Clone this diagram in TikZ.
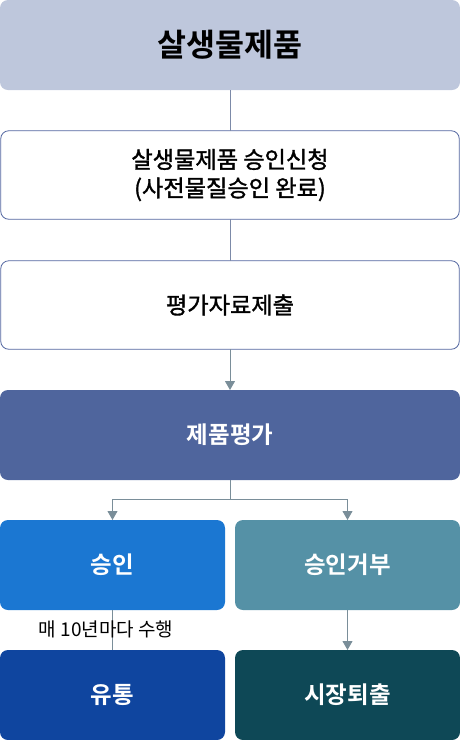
\documentclass[tikz,border=0pt]{standalone}
\usepackage{fontspec}
\setmainfont{Noto Sans CJK KR}[BoldFont={Noto Sans CJK KR Bold}]
\newfontfamily\medfont[FakeBold=1.4]{Noto Sans CJK KR}
\usetikzlibrary{arrows.meta}
\definecolor{topfill}{HTML}{BEC7DC}
\definecolor{evalfill}{HTML}{4F659D}
\definecolor{okfill}{HTML}{1B77D2}
\definecolor{nofill}{HTML}{5591A6}
\definecolor{distfill}{HTML}{0F459F}
\definecolor{outfill}{HTML}{0E4856}
\definecolor{edgeblue}{HTML}{5366A0}
\definecolor{conn}{HTML}{7A8E99}
\definecolor{conntop}{HTML}{7C8AA8}
\tikzset{
  base/.style={rounded corners=8pt, inner sep=0pt, outer sep=0pt, anchor=north west, align=center},
  topbox/.style={base, fill=topfill, minimum width=460pt, minimum height=90pt, font=\bfseries\fontsize{31.5}{36}\selectfont},
  whitebox/.style={base, fill=white, draw=edgeblue, line width=0.8pt, minimum width=458.5pt, minimum height=88.5pt, font=\medfont\fontsize{23.2}{28.5}\selectfont},
  colbox/.style={base, text=white, font=\bfseries\fontsize{23.5}{28}\selectfont},
  wide/.style={minimum width=460pt, minimum height=90pt},
  half/.style={minimum width=225pt, minimum height=90pt},
  link/.style={draw=conntop, line width=0.9pt},
  arrowlink/.style={draw=conn, line width=0.9pt, -{Triangle[width=10pt,length=9pt]}},
}
\begin{document}
\begin{tikzpicture}[x=1pt,y=-1pt]
\useasboundingbox (0,0) rectangle (460,740);
\node[topbox] (top) at (0,0) {살생물제품};
\node[whitebox] (apply) at (0.75,130.75) {살생물제품 승인신청\\(사전물질승인 완료)};
\node[whitebox] (submit) at (0.75,260.75) {평가자료제출};
\node[colbox, wide, fill=evalfill] (eval) at (0,390) {제품평가};
\node[colbox, half, fill=okfill] (ok) at (0,520) {승인};
\node[colbox, half, fill=nofill] (no) at (235,520) {승인거부};
\node[colbox, half, fill=distfill] (dist) at (0,650) {유통};
\node[colbox, half, fill=outfill] (out) at (235,650) {시장퇴출};
\coordinate (split) at (230,499);
\draw[link] (top.south) -- (apply.north);
\draw[link] (apply.south) -- (submit.north);
\draw[arrowlink] (submit.south) -- (eval.north);
\draw[draw=conn, line width=0.9pt] (eval.south) -- (split);
\draw[arrowlink] (split) -| (ok.north);
\draw[arrowlink] (split) -| (no.north);
\draw[draw=conn, line width=0.9pt] (ok.south) -- (dist.north);
\draw[arrowlink] (no.south) -- (out.north);
\node[font=\fontsize{19}{22}\selectfont, inner sep=0pt, anchor=center] (cycle) at (106,629) {매 10년마다 수행};
\end{tikzpicture}
\end{document}
